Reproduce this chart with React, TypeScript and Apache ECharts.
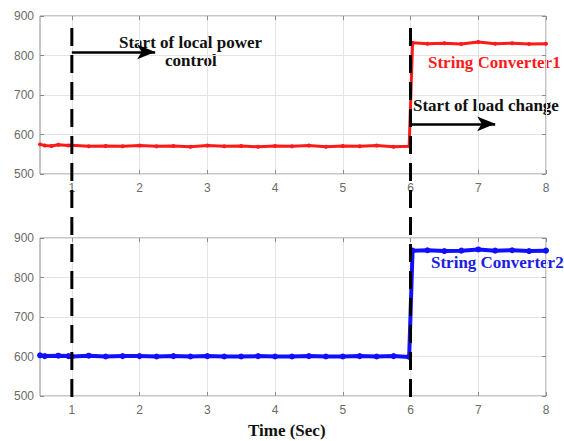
import React, { useEffect, useRef } from "react";
import * as echarts from "echarts";

const xTicks = [1, 2, 3, 4, 5, 6, 7, 8];
const xMin = 0.53;
const xMax = 8;

const conv1Time = [0.53, 0.6, 0.7, 0.8, 0.95, 1.0, 1.25, 1.5, 1.75, 2.0, 2.25, 2.5, 2.75, 3.0, 3.25, 3.5, 3.75, 4.0, 4.25, 4.5, 4.75, 5.0, 5.25, 5.5, 5.75, 5.98, 6.03, 6.25, 6.5, 6.75, 7.0, 7.25, 7.5, 7.75, 8.0];
const conv1Power = [575, 572, 571, 574, 572, 573, 570, 571, 570, 572, 570, 571, 569, 572, 570, 571, 569, 571, 570, 572, 569, 571, 570, 572, 569, 570, 832, 830, 831, 829, 834, 830, 831, 829, 830];

const conv2Time = [0.53, 0.6, 0.8, 0.95, 1.0, 1.25, 1.5, 1.75, 2.0, 2.25, 2.5, 2.75, 3.0, 3.25, 3.5, 3.75, 4.0, 4.25, 4.5, 4.75, 5.0, 5.25, 5.5, 5.75, 5.98, 6.03, 6.25, 6.5, 6.75, 7.0, 7.25, 7.5, 7.75, 8.0];
const conv2Power = [603, 601, 602, 601, 600, 602, 600, 601, 601, 600, 601, 600, 601, 600, 600, 601, 600, 600, 601, 600, 600, 601, 600, 601, 599, 868, 869, 867, 868, 871, 868, 869, 867, 868];

const eventTimes = [1, 6];
const arrow1 = { y: 809, from: 1, to: 2.23 };
const arrow2 = { y: 627, from: 6, to: 7.25 };

const gridColor = "#e3e3e3";
const frameColor = "#8c8c8c";
const labelColor = "#6a6a6a";

function xAxisFor(gridIndex: number, top: boolean) {
  return {
    type: "value",
    gridIndex,
    min: xMin,
    max: xMax,
    position: top ? "top" : "bottom",
    axisLine: { show: false },
    axisTick: { show: true, inside: true, length: 4, lineStyle: { color: frameColor }, customValues: xTicks },
    axisLabel: top
      ? { show: false }
      : { show: true, customValues: xTicks, color: labelColor, fontSize: 12, fontFamily: "Liberation Sans", margin: 8 },
    splitLine: { show: !top, lineStyle: { color: gridColor } },
  };
}

function yAxisFor(gridIndex: number, right: boolean) {
  return {
    type: "value",
    gridIndex,
    min: 500,
    max: 900,
    interval: 100,
    position: right ? "right" : "left",
    axisLine: { show: false },
    axisTick: { show: true, inside: true, length: 4, lineStyle: { color: frameColor } },
    axisLabel: right
      ? { show: false }
      : { show: true, color: labelColor, fontSize: 12, fontFamily: "Liberation Sans", margin: 6 },
    splitLine: { show: !right, lineStyle: { color: gridColor } },
  };
}

export default function App() {
  const ref = useRef<HTMLDivElement>(null);
  useEffect(() => {
    document.body.style.margin = "0";
    const chart = echarts.init(ref.current!, null, { renderer: "svg" });
    const textStyle = (fill: string) => ({
      fill,
      font: "bold 17px 'Liberation Serif', 'Times New Roman', serif",
    });
    chart.setOption({
      animation: false,
      backgroundColor: "#ffffff",
      grid: [
        { left: 40, right: 18, top: 16, height: 158, show: true, borderColor: frameColor, borderWidth: 1, containLabel: false },
        { left: 40, right: 18, top: 238, height: 158, show: true, borderColor: frameColor, borderWidth: 1, containLabel: false },
        { left: 40, right: 18, top: 20, height: 377, show: false, containLabel: false },
      ],
      xAxis: [
        xAxisFor(0, false),
        xAxisFor(0, true),
        xAxisFor(1, false),
        xAxisFor(1, true),
        { type: "value", gridIndex: 2, min: xMin, max: xMax, show: false },
      ],
      yAxis: [
        yAxisFor(0, false),
        yAxisFor(0, true),
        yAxisFor(1, false),
        yAxisFor(1, true),
        { type: "value", gridIndex: 2, min: 0, max: 1, show: false },
      ],
      series: [
        {
          type: "line",
          name: "String Converter1",
          xAxisIndex: 0,
          yAxisIndex: 0,
          data: conv1Time.map((t, i) => [t, conv1Power[i]]),
          showSymbol: true,
          symbol: "circle",
          symbolSize: 4,
          lineStyle: { color: "#ff1a1a", width: 3 },
          itemStyle: { color: "#ff1a1a" },
          markLine: {
            silent: true,
            symbol: ["none", "arrow"],
            symbolSize: [11, 18],
            label: { show: false },
            lineStyle: { color: "#000", width: 2.5, type: "solid" },
            data: [
              [{ coord: [arrow1.from, arrow1.y] }, { coord: [arrow1.to, arrow1.y] }],
              [{ coord: [arrow2.from, arrow2.y] }, { coord: [arrow2.to, arrow2.y] }],
            ],
          },
        },
        {
          type: "line",
          name: "String Converter2",
          xAxisIndex: 2,
          yAxisIndex: 2,
          data: conv2Time.map((t, i) => [t, conv2Power[i]]),
          showSymbol: true,
          symbol: "circle",
          symbolSize: 6,
          lineStyle: { color: "#1010ff", width: 4 },
          itemStyle: { color: "#1010ff" },
        },
        ...eventTimes.map((t) => ({
          type: "line",
          xAxisIndex: 4,
          yAxisIndex: 4,
          data: [[t, 0], [t, 1]],
          showSymbol: false,
          z: 5,
          lineStyle: { color: "#000", width: 3, type: [18, 9] },
        })),
      ],
      graphic: [
        { type: "text", left: 119, top: 34, style: { text: "Start of local power", ...textStyle("#111") } },
        { type: "text", left: 165, top: 52, style: { text: "control", ...textStyle("#111") } },
        { type: "text", left: 428, top: 54, style: { text: "String Converter1", ...textStyle("#ff1a1a") } },
        { type: "text", left: 413, top: 97, style: { text: "Start of load change", ...textStyle("#111") } },
        { type: "text", left: 431, top: 254, style: { text: "String Converter2", ...textStyle("#2020e0") } },
        { type: "text", left: 248, top: 422, style: { text: "Time (Sec)", ...textStyle("#111") } },
      ],
    });
    return () => chart.dispose();
  }, []);
  return <div ref={ref} style={{ width: 564, height: 441 }} />;
}
